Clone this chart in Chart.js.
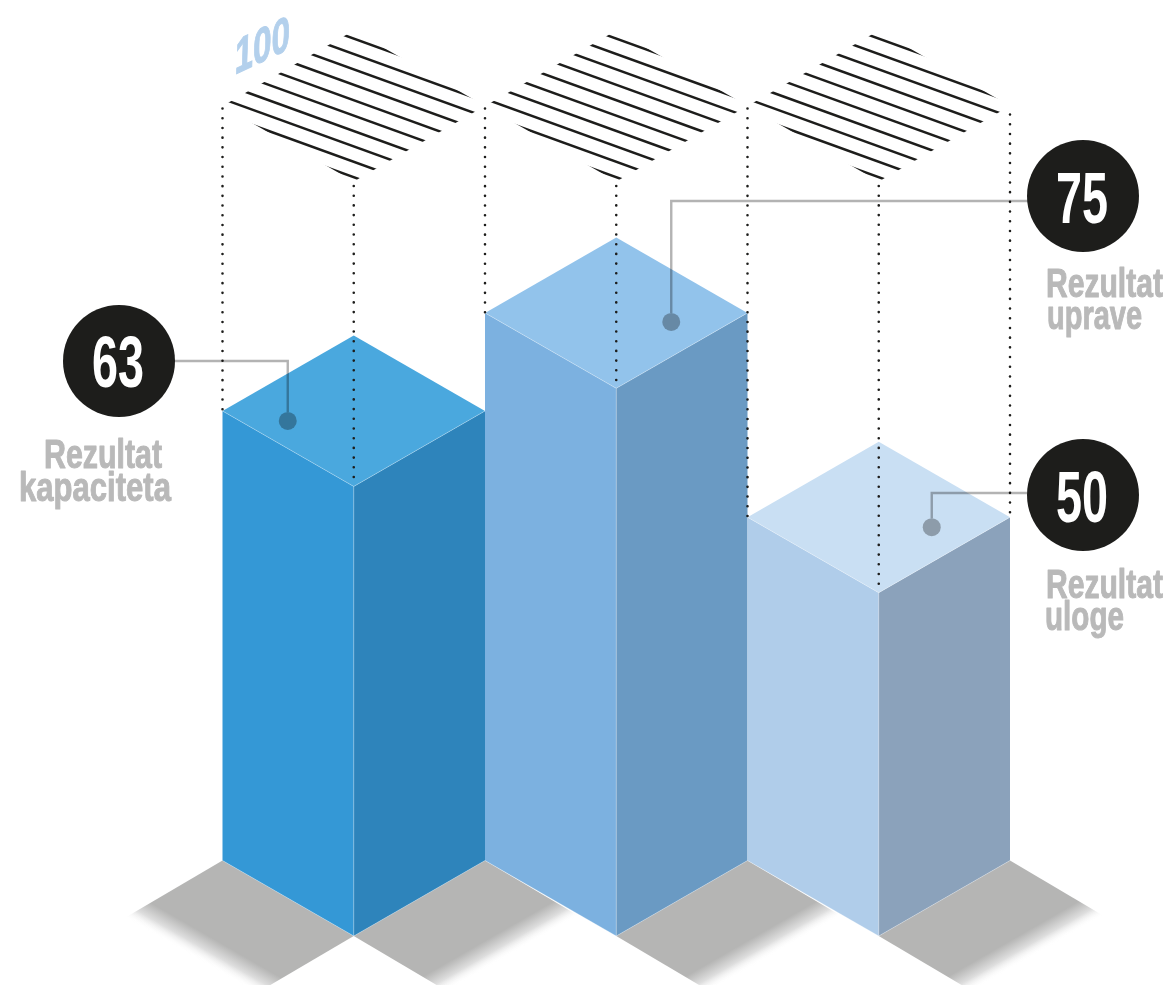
<!DOCTYPE html>
<html>
<head>
<meta charset="utf-8">
<style>
  html, body { margin: 0; padding: 0; background: #fff; }
  canvas { display: block; }
</style>
<script src="https://cdn.jsdelivr.net/npm/chart.js@4"></script>
</head>
<body>
<canvas id="chart" width="1171" height="985"></canvas>
<script>
// Scores
const categories = ['Rezultat kapaciteta', 'Rezultat uprave', 'Rezultat uloge'];
const scores = [63, 75, 50];
const scaleFloor = 8;
const scaleCeiling = 100;
const ceilingLabel = '100';

// Face colours of each column
const frontColors = ['#3498d6', '#7cb1e0', '#b0cdea'];
const sideColors = ['#2e84bb', '#6a9ac3', '#8ba2bb'];
const topColors = ['#4aa8de', '#92c3eb', '#c9dff3'];

const ISO = 0.575;           // vertical rise per horizontal unit of the isometric grid
const INK = '#1d1d1b';
const FONT = '"Liberation Sans Narrow", "Liberation Sans", sans-serif';

// Callout layout: bubble, elbow leader, dot on the column top, two-line caption
const callouts = [
  { bubble: [119, 361], r: 56, numX: 92, numW: 52, numBase: 387, lineY: 361, dot: [-66, 10], lines: [
    { t: 'Rezultat', x: 44, w: 118, base: 468 }, { t: 'kapaciteta', x: 19, w: 152, base: 501 } ] },
  { bubble: [1083, 196], r: 56, numX: 1056, numW: 52, numBase: 223, lineY: 201, dot: [55, 9], lines: [
    { t: 'Rezultat', x: 1046, w: 117, base: 297 }, { t: 'uprave', x: 1047, w: 95, base: 329 } ] },
  { bubble: [1083, 495], r: 56, numX: 1056, numW: 52, numBase: 522, lineY: 493, dot: [53, 10], lines: [
    { t: 'Rezultat', x: 1046, w: 117, base: 598 }, { t: 'uloge', x: 1045, w: 79, base: 630 } ] }
];

function poly(ctx, pts) {
  ctx.beginPath();
  pts.forEach((p, i) => i ? ctx.lineTo(p[0], p[1]) : ctx.moveTo(p[0], p[1]));
  ctx.closePath();
}

// Text squeezed horizontally to a set width, thickened a little with an outline
function squeezed(ctx, text, x, base, size, width, color, weight) {
  ctx.save();
  ctx.font = 'bold ' + size + 'px ' + FONT;
  ctx.fillStyle = color;
  ctx.strokeStyle = color;
  ctx.lineWidth = weight;
  ctx.lineJoin = 'round';
  ctx.textAlign = 'left';
  ctx.textBaseline = 'alphabetic';
  const natural = ctx.measureText(text).width;
  ctx.translate(x, base);
  ctx.scale(width / natural, 1);
  ctx.fillText(text, 0, 0);
  if (weight) ctx.strokeText(text, 0, 0);
  ctx.restore();
}

// Ground shadow fading out along its depth direction
function groundShadow(ctx, a, b, d) {
  const len = Math.hypot(b[0] - a[0], b[1] - a[1]);
  const nx = -(b[1] - a[1]) / len, ny = (b[0] - a[0]) / len;
  const depth = d[0] * nx + d[1] * ny;
  const g = ctx.createLinearGradient(a[0], a[1], a[0] + nx * depth, a[1] + ny * depth);
  g.addColorStop(0, '#b5b5b4');
  g.addColorStop(0.74, '#b5b5b4');
  g.addColorStop(0.88, '#dedede');
  g.addColorStop(1, 'rgba(255,255,255,0)');
  ctx.fillStyle = g;
  poly(ctx, [a, b, [b[0] + d[0], b[1] + d[1]], [a[0] + d[0], a[1] + d[1]]]);
  ctx.fill();
}

// Striped rhombus marking the top of the scale above a column
function hatch(ctx, cx, y, hw, dy) {
  ctx.save();
  poly(ctx, [[cx, y], [cx - hw, y - dy], [cx, y - 2 * dy], [cx + hw, y - dy]]);
  ctx.clip();
  ctx.strokeStyle = INK;
  ctx.lineWidth = 2.5;
  for (let k = -7; k <= 2; k++) {
    const t = -35.1 + 15.4 * k;
    ctx.beginPath();
    ctx.moveTo(cx - hw, y + t - 0.362 * hw);
    ctx.lineTo(cx + hw, y + t + 0.362 * hw);
    ctx.stroke();
  }
  ctx.restore();
}

function dotted(ctx, x, y0, y1) {
  ctx.save();
  ctx.strokeStyle = INK;
  ctx.lineWidth = 2.6;
  ctx.lineCap = 'round';
  ctx.setLineDash([0, 9.7]);
  ctx.beginPath();
  ctx.moveTo(x, y0);
  ctx.lineTo(x, y1);
  ctx.stroke();
  ctx.restore();
}

const isometricColumns = {
  id: 'isometricColumns',
  afterDatasetsDraw(chart) {
    const ctx = chart.ctx;
    const bars = chart.getDatasetMeta(0).data;
    const yScale = chart.scales.y;
    const ceilY = yScale.getPixelForValue(scaleCeiling);
    const hw = bars[0].width / 2;
    const dy = hw * ISO;
    const floor = yScale.getPixelForValue(scaleFloor);
    const depth = [93, 55];

    ctx.save();

    // Ground shadows: one to the left of the first column, one to the right of each column
    groundShadow(ctx, [bars[0].x - hw, floor - dy], [bars[0].x, floor], [-97, 57]);
    bars.forEach(b => {
      groundShadow(ctx, [b.x, floor], [b.x + hw, floor - dy], depth);
    });

    // Column faces
    bars.forEach((b, i) => {
      const x = b.x, y = b.y;
      ctx.fillStyle = frontColors[i];
      poly(ctx, [[x - hw, y - dy], [x, y], [x, floor], [x - hw, floor - dy]]);
      ctx.fill();
      ctx.fillStyle = sideColors[i];
      poly(ctx, [[x, y], [x + hw, y - dy], [x + hw, floor - dy], [x, floor]]);
      ctx.fill();
      ctx.fillStyle = topColors[i];
      poly(ctx, [[x, y], [x - hw, y - dy], [x, y - 2 * dy], [x + hw, y - dy]]);
      ctx.fill();

      // Hairline highlights along the shared edges
      ctx.strokeStyle = 'rgba(255,255,255,0.4)';
      ctx.lineWidth = 0.7;
      ctx.beginPath();
      ctx.moveTo(x - hw, y - dy); ctx.lineTo(x, y); ctx.lineTo(x + hw, y - dy);
      ctx.moveTo(x, y); ctx.lineTo(x, floor);
      ctx.moveTo(x - hw, floor - dy); ctx.lineTo(x, floor); ctx.lineTo(x + hw, floor - dy);
      ctx.stroke();
    });

    // Scale ceiling above each column with dotted drop lines
    bars.forEach(b => {
      hatch(ctx, b.x, ceilY - 2.5, hw, dy);
      dotted(ctx, b.x - hw, ceilY - dy, b.y - dy);
      dotted(ctx, b.x, ceilY + 2, b.y);
    });
    const last = bars[bars.length - 1];
    dotted(ctx, last.x + hw, ceilY - dy + 6, last.y - dy);

    // Scale ceiling label, sheared onto the grid
    ctx.save();
    ctx.transform(1, -0.47, 0.1, 1, 236, 74);
    ctx.font = 'italic bold 47px ' + FONT;
    ctx.fillStyle = '#b3d0ec';
    ctx.strokeStyle = '#b3d0ec';
    ctx.lineWidth = 1;
    const natural = ctx.measureText(ceilingLabel).width;
    ctx.scale(55 / natural, 1);
    ctx.fillText(ceilingLabel, 0, 0);
    ctx.strokeText(ceilingLabel, 0, 0);
    ctx.restore();

    // Callouts
    bars.forEach((b, i) => {
      const c = callouts[i];
      const dotX = b.x + c.dot[0], dotY = b.y - dy + c.dot[1];
      ctx.save();
      ctx.globalCompositeOperation = 'multiply';
      ctx.strokeStyle = '#b3b3b3';
      ctx.lineWidth = 2.4;
      ctx.beginPath();
      ctx.moveTo(c.bubble[0], c.lineY);
      ctx.lineTo(dotX, c.lineY);
      ctx.lineTo(dotX, dotY - 9);
      ctx.stroke();
      ctx.fillStyle = '#b3b3b3';
      ctx.beginPath();
      ctx.arc(dotX, dotY, 9, 0, Math.PI * 2);
      ctx.fill();
      ctx.restore();

      ctx.fillStyle = INK;
      ctx.beginPath();
      ctx.arc(c.bubble[0], c.bubble[1], c.r, 0, Math.PI * 2);
      ctx.fill();
      squeezed(ctx, String(scores[i]), c.numX, c.numBase, 73, c.numW, '#ffffff', 0);
      c.lines.forEach(l => squeezed(ctx, l.t, l.x, l.base, 40, l.w, '#b9b9b9', 1));
    });

    ctx.restore();
  }
};

new Chart(document.getElementById('chart'), {
  type: 'bar',
  data: {
    labels: categories,
    datasets: [{
      label: 'Rezultat',
      data: scores,
      backgroundColor: 'transparent',
      borderWidth: 0,
      barPercentage: 1,
      categoryPercentage: 1
    }]
  },
  options: {
    responsive: false,
    animation: false,
    layout: { padding: { left: 222.5, right: 161, top: 184, bottom: 49 } },
    plugins: { legend: { display: false }, tooltip: { enabled: false } },
    scales: {
      x: { display: false },
      y: { display: false, min: scaleFloor, max: scaleCeiling }
    }
  },
  plugins: [isometricColumns]
});
</script>
</body>
</html>
